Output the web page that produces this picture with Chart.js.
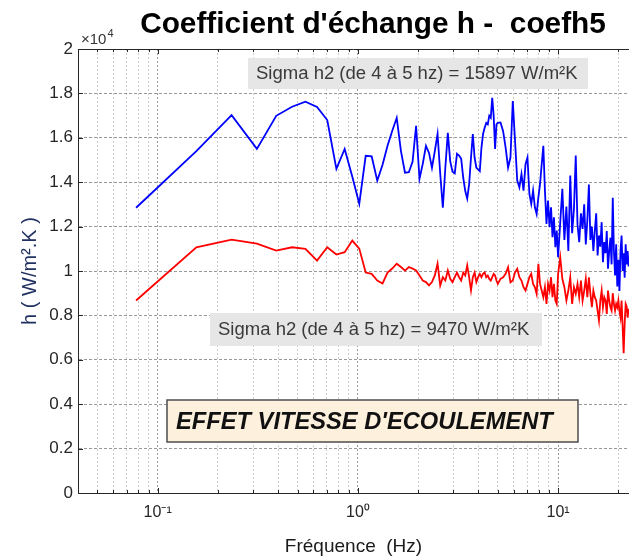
<!DOCTYPE html>
<html>
<head>
<meta charset="utf-8">
<script src="https://cdn.jsdelivr.net/npm/chart.js@4.4.1/dist/chart.umd.min.js"></script>
<style>
  html, body { margin: 0; padding: 0; background: #fff; }
  #wrap { width: 629px; height: 558px; position: relative; }
</style>
</head>
<body>
<div id="wrap"><canvas id="coefh5"></canvas></div>
<script>
// frequencies (Hz)
const freqHz = [
  0.078, 0.156, 0.234, 0.313, 0.391, 0.469, 0.547, 0.625, 0.703, 0.781,
  0.859, 0.938, 1.016, 1.094, 1.172, 1.25, 1.328, 1.406, 1.484, 1.563,
  1.641, 1.719, 1.797, 1.875, 1.953, 2.031, 2.109, 2.188, 2.266, 2.344,
  2.422, 2.5, 2.578, 2.656, 2.734, 2.813, 2.891, 2.969, 3.047, 3.125,
  3.203, 3.281, 3.359, 3.438, 3.516, 3.594, 3.672, 3.75, 3.828, 3.906,
  3.984, 4.063, 4.141, 4.219, 4.297, 4.375, 4.453, 4.531, 4.609, 4.688,
  4.766, 4.844, 4.922, 5.0,
  5.156, 5.313, 5.469, 5.625, 5.781, 5.938, 6.094, 6.25, 6.406, 6.563,
  6.719, 6.875, 7.031, 7.188, 7.344, 7.5, 7.656, 7.813, 7.969, 8.125,
  8.281, 8.438, 8.594, 8.75, 8.906, 9.063, 9.219, 9.375, 9.531, 9.688,
  9.844, 10.0,
  10.25, 10.5, 10.75, 11, 11.25, 11.5, 11.75, 12, 12.25, 12.5,
  12.75, 13, 13.25, 13.5, 13.75, 14, 14.25, 14.5, 14.75, 15,
  15.25, 15.5, 15.75, 16, 16.25, 16.5, 16.75, 17, 17.25, 17.5,
  17.75, 18, 18.25, 18.5, 18.75, 19, 19.25, 19.5, 19.75, 20,
  20.25, 20.5, 20.75, 21, 21.25, 21.5, 21.75, 22, 22.25, 22.5
];

// h, upper curve (blue), W/m2K
const hBlue = [
  12850, 15400, 17020, 15500, 16990, 17400, 17630, 17390, 16800, 14600,
  15500, 14250, 13030, 15190, 15160, 14070, 14790, 15640, 16310, 16900,
  15400, 14430, 14450, 14920, 16540, 14150, 14830, 15640, 15320, 14650,
  15400, 16170, 14380, 12850, 14650, 16220, 14950, 14470, 14400, 15280,
  15200, 15050, 14200, 13600, 13260, 13900, 15100, 16170, 15100, 14650,
  14580, 14500, 15550, 16170, 16450, 16670, 16600, 16990, 16900, 17800,
  16990, 15500, 16600, 16670,
  16690, 16300, 15560, 14660, 15110, 17660, 15860, 14070, 13770, 14370,
  13620, 14810, 15110, 13470, 13020, 13620, 12870, 12570, 13320, 13920,
  14810, 15640, 13620, 12120, 13170, 11970, 12870, 11520, 12420, 11070,
  11820, 10620,
  12200, 13700, 11400, 12900, 10900, 14300, 11700, 12800, 15200, 12100,
  11300, 12600, 11900, 13000, 11200, 12300, 13900, 11400, 12000, 10900,
  11800, 12600, 10700, 11600, 11100, 12200, 10400, 11300, 10800, 11800,
  10100, 10900, 11500, 10300, 13300, 10900, 9800, 11200, 9300, 10500,
  9100, 10900, 11600, 10000, 10800, 9700, 11200, 10300, 10900, 10200
];

// h, lower curve (red), W/m2K
const hRed = [
  8670, 11070, 11410, 11230, 10920, 11070, 11000, 10470, 11070, 10740,
  10850, 11370, 11010, 9930, 9870, 9570, 9440, 9930, 10110, 10330,
  10180, 10020, 10180, 10110, 10020, 9800, 9570, 9500, 9350, 9500,
  9800, 10330, 9350, 9720, 9570, 10020, 9650, 9500, 9720, 9930,
  9720, 9570, 9930, 9800, 10250, 9720, 9120, 9720, 9930, 9500,
  9720, 9870, 9720, 9870, 9940, 9720, 9790, 9640, 9570, 9720,
  9870, 9800, 9570, 9420,
  9650, 9720, 9870, 10170, 9490, 9570, 9940, 10100, 9720, 9570,
  9270, 9120, 9420, 9720, 9870, 9420, 9270, 8970, 10320, 9420,
  9120, 8820, 9270, 8520, 9420, 9120, 9720, 8820, 9420, 8670,
  8520, 9870,
  10620, 9650, 9270, 8670, 9120, 9720, 8520, 9270, 8970, 9420,
  8820, 9570, 8670, 9120, 9650, 8820, 9720, 8970, 8370, 9120,
  8820, 8670, 8220, 7770, 8670, 9120, 8370, 8820, 8670, 8070,
  9120, 8670, 8370, 8220, 9000, 8520, 8220, 8520, 8370, 8670,
  8220, 7920, 8670, 7500, 6300, 7620, 8520, 8400, 7900, 8300
];

const yTicks = [0, 2000, 4000, 6000, 8000, 10000, 12000, 14000, 16000, 18000, 20000];
const xTicks = [0.04, 0.05, 0.06, 0.07, 0.08, 0.09, 0.1, 0.2, 0.3, 0.4, 0.5, 0.6, 0.7, 0.8, 0.9,
                1, 2, 3, 4, 5, 6, 7, 8, 9, 10, 20];
const xMajor = [0.1, 1, 10];
const xMajorLabels = ['10⁻¹', '10⁰', '10¹'];

const titleText = "Coefficient d'échange h -  coefh5";
const noteBlue = 'Sigma h2 (de 4 à 5 hz) = 15897 W/m²K';
const noteRed = 'Sigma h2 (de 4 à 5 hz) = 9470 W/m²K';
const noteEffect = "EFFET VITESSE D'ECOULEMENT";

const FONT = '"Liberation Sans", Arial, sans-serif';

function fitSize(ctx, text, style, width) {
  ctx.font = style + ' 20px ' + FONT;
  return 20 * width / ctx.measureText(text).width;
}

const decorations = {
  id: 'decorations',
  afterDatasetsDraw(chart) {
    const {ctx, chartArea: a, scales: {x, y}} = chart;
    ctx.save();

    // top box line + inward tick marks
    ctx.strokeStyle = '#262626';
    ctx.lineWidth = 1;
    ctx.beginPath();
    ctx.moveTo(a.left, a.top + 0.5);
    ctx.lineTo(a.right, a.top + 0.5);
    xTicks.forEach(v => {
      const px = Math.round(x.getPixelForValue(v)) + 0.5;
      const len = xMajor.includes(v) ? 5 : 3;
      ctx.moveTo(px, a.bottom);
      ctx.lineTo(px, a.bottom - len);
      ctx.moveTo(px, a.top);
      ctx.lineTo(px, a.top + len);
    });
    yTicks.forEach(v => {
      const py = Math.round(y.getPixelForValue(v)) + 0.5;
      ctx.moveTo(a.left, py);
      ctx.lineTo(a.left + 5, py);
    });
    ctx.stroke();

    // title
    ctx.fillStyle = '#000';
    ctx.textBaseline = 'alphabetic';
    ctx.textAlign = 'center';
    const ts = fitSize(ctx, titleText, 'bold', 466);
    ctx.font = 'bold ' + ts + 'px ' + FONT;
    ctx.fillText(titleText, 373, 33);

    // x10^4 exponent
    ctx.textAlign = 'left';
    ctx.fillStyle = '#333';
    ctx.font = '15px ' + FONT;
    ctx.fillText('×10', 81, 44);
    const w = ctx.measureText('×10').width;
    ctx.font = '11px ' + FONT;
    ctx.fillText('4', 81 + w + 1, 37);

    // grey notes
    const ns = fitSize(ctx, noteBlue, '', 322);
    ctx.textBaseline = 'middle';
    ctx.fillStyle = '#e6e6e6';
    ctx.fillRect(248, 58, 340, 31);
    ctx.fillRect(210, 313, 332, 33);
    ctx.fillStyle = '#3a3a3a';
    ctx.font = ns + 'px ' + FONT;
    ctx.fillText(noteBlue, 256, 74);
    ctx.fillText(noteRed, 218, 330);

    // effect box
    ctx.fillStyle = '#fdf0dc';
    ctx.fillRect(167, 400, 411, 42);
    ctx.strokeStyle = '#4d4d4d';
    ctx.lineWidth = 1.5;
    ctx.strokeRect(167, 400, 411, 42);
    const es = fitSize(ctx, noteEffect, 'italic bold', 377);
    ctx.font = 'italic bold ' + es + 'px ' + FONT;
    ctx.fillStyle = '#111';
    ctx.fillText(noteEffect, 176, 422);

    ctx.restore();
  }
};

new Chart(document.getElementById('coefh5'), {
  type: 'line',
  data: {
    datasets: [
      {
        label: 'h (vitesse haute)',
        data: freqHz.map((f, i) => ({x: f, y: hBlue[i]})),
        borderColor: '#0000ff',
        borderWidth: 1.8,
        pointRadius: 0,
        tension: 0
      },
      {
        label: 'h (vitesse basse)',
        data: freqHz.map((f, i) => ({x: f, y: hRed[i]})),
        borderColor: '#ff0000',
        borderWidth: 1.8,
        pointRadius: 0,
        tension: 0
      }
    ]
  },
  options: {
    responsive: true,
    maintainAspectRatio: false,
    animation: false,
    layout: { padding: { top: 49, right: 0, left: 0, bottom: 0 } },
    plugins: {
      legend: { display: false },
      title: { display: false },
      tooltip: { enabled: false }
    },
    scales: {
      x: {
        type: 'logarithmic',
        min: 0.04,
        max: 22.6,
        afterBuildTicks: s => { s.ticks = xTicks.map(v => ({value: v, major: xMajor.includes(v)})); },
        afterFit: s => { s.height = 65; },
        ticks: {
          autoSkip: false,
          maxRotation: 0,
          padding: 10,
          color: '#262626',
          font: { family: FONT, size: 16 },
          callback: v => { const i = xMajor.indexOf(v); return i >= 0 ? xMajorLabels[i] : ''; }
        },
        grid: {
          drawTicks: false,
          lineWidth: 1,
          color: c => (c.tick && xMajor.includes(c.tick.value)) ? 'rgba(0,0,0,0.4)' : 'rgba(0,0,0,0.2)'
        },
        border: { display: true, color: '#262626', width: 1, dash: [2, 2] },
        title: {
          display: true,
          text: 'Fréquence  (Hz)',
          color: '#1a1a1a',
          font: { family: FONT, size: 19 },
          padding: { top: 0, bottom: 0 }
        }
      },
      y: {
        min: 0,
        max: 20000,
        afterBuildTicks: s => { s.ticks = yTicks.map(v => ({value: v})); },
        afterFit: s => { s.width = 78; },
        ticks: {
          padding: 5,
          color: '#262626',
          font: { family: FONT, size: 17 },
          callback: v => String(+(v / 10000).toFixed(1))
        },
        grid: { drawTicks: false, lineWidth: 1, color: 'rgba(0,0,0,0.4)' },
        border: { display: true, color: '#262626', width: 1, dash: [3, 2] },
        title: {
          display: true,
          text: 'h ( W/m².K )',
          color: '#203060',
          font: { family: FONT, size: 20 },
          padding: { top: 18, bottom: 0 }
        }
      }
    }
  },
  plugins: [decorations]
});
</script>
</body>
</html>
